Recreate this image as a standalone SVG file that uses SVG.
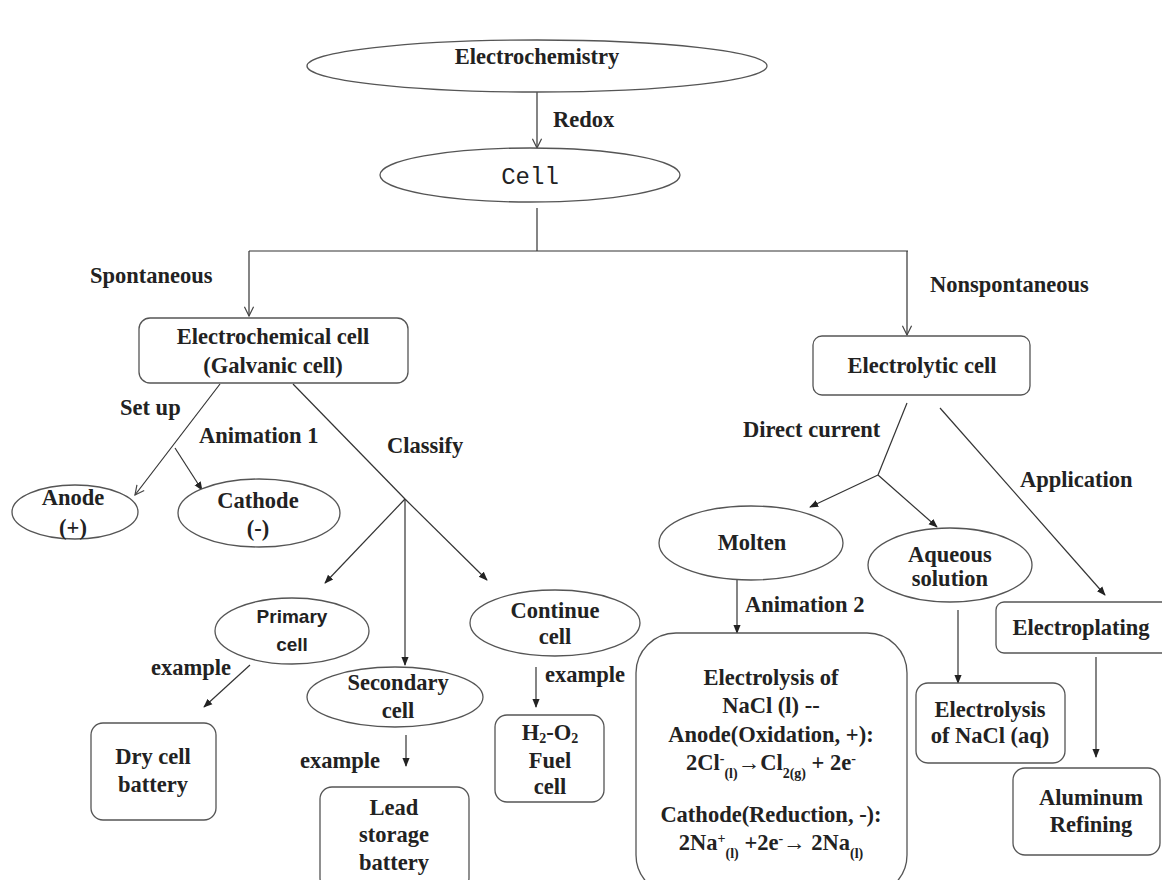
<svg xmlns="http://www.w3.org/2000/svg" width="1162" height="880" viewBox="0 0 1162 880">
<style>
.t{font-family:"Liberation Serif","Times New Roman",serif;font-weight:bold;font-size:22.5px;fill:#222}
.c{text-anchor:middle}
.s{font-family:"Liberation Sans",Arial,sans-serif;font-weight:bold;font-size:19px;fill:#222;text-anchor:middle}
.m{font-family:"Liberation Mono","Courier New",monospace;font-size:24px;fill:#222;text-anchor:middle}
.sm{font-size:14px}
.n{fill:#fff;stroke:#555;stroke-width:1.3}
.e{stroke:#333;stroke-width:1.2;fill:none}
.o{marker-end:url(#open)}
.f{marker-end:url(#fill)}
</style>
<defs>
<marker id="open" viewBox="0 0 12 12" refX="11" refY="6" markerWidth="11" markerHeight="11" markerUnits="userSpaceOnUse" orient="auto">
<path d="M1,1 L11,6 L1,11" fill="none" stroke="#444" stroke-width="1.3"/>
</marker>
<marker id="fill" viewBox="0 0 10 10" refX="9" refY="5" markerWidth="9" markerHeight="9" markerUnits="userSpaceOnUse" orient="auto">
<path d="M0,1 L10,5 L0,9 Z" fill="#222"/>
</marker>
</defs>
<rect width="1162" height="880" fill="#fff"/>

<g id="connectors">
<path class="e o" d="M537,92 L537,148"/>
<path class="e" d="M537,208 L537,251"/>
<path class="e" d="M249,251 L908,251"/>
<path class="e o" d="M249,251 L249,316"/>
<path class="e o" d="M907,251 L907,335"/>
<path class="e o" d="M220,384 L135,495"/>
<path class="e f" d="M175,448 L202,490"/>
<path class="e" d="M293,384 L405,499"/>
<path class="e f" d="M405,499 L325,583"/>
<path class="e f" d="M405,499 L405,665"/>
<path class="e f" d="M405,499 L487,580"/>
<path class="e f" d="M250,665 L204,707"/>
<path class="e f" d="M406,735 L406,766"/>
<path class="e f" d="M536,667 L536,707"/>
<path class="e" d="M907,403 L878,475"/>
<path class="e f" d="M878,475 L810,507"/>
<path class="e f" d="M878,475 L937,527"/>
<path class="e f" d="M940,408 L1105,595"/>
<path class="e f" d="M737,580 L737,633"/>
<path class="e f" d="M958,610 L958,683"/>
<path class="e f" d="M1096,657 L1096,757"/>
</g>

<g id="labels">
<text class="t" x="90" y="283">Spontaneous</text>
<text class="t" x="553" y="127">Redox</text>
<text class="t" x="930" y="292">Nonspontaneous</text>
<text class="t" x="120" y="415">Set up</text>
<text class="t" x="199" y="443">Animation 1</text>
<text class="t" x="387" y="453">Classify</text>
<text class="t" x="743" y="437">Direct current</text>
<text class="t" x="1020" y="487">Application</text>
<text class="t" x="151" y="675">example</text>
<text class="t" x="300" y="768">example</text>
<text class="t" x="545" y="682">example</text>
<text class="t" x="745" y="612">Animation 2</text>
</g>

<g id="electrochemistry">
<ellipse class="n" cx="537" cy="66" rx="230" ry="26"/>
<text class="t c" x="537" y="64">Electrochemistry</text>
</g>
<g id="cell">
<ellipse class="n" cx="530" cy="175" rx="150" ry="27"/>
<text class="m" x="530" y="184">Cell</text>
</g>
<g id="galvanic">
<rect class="n" x="139" y="318" width="269" height="65" rx="11"/>
<text class="t c" x="273" y="344">Electrochemical cell</text>
<text class="t c" x="273" y="373">(Galvanic cell)</text>
</g>
<g id="electrolytic">
<rect class="n" x="813" y="336" width="217" height="59" rx="9"/>
<text class="t c" x="922" y="373">Electrolytic cell</text>
</g>
<g id="anode">
<ellipse class="n" cx="75" cy="512" rx="63" ry="27"/>
<text class="t c" x="73" y="505">Anode</text>
<text class="t c" x="73" y="535">(+)</text>
</g>
<g id="cathode">
<ellipse class="n" cx="259" cy="513" rx="81" ry="34"/>
<text class="t c" x="258" y="508">Cathode</text>
<text class="t c" x="258" y="536">(-)</text>
</g>
<g id="primary">
<ellipse class="n" cx="292" cy="631" rx="77" ry="33"/>
<text class="s" x="292" y="623">Primary</text>
<text class="s" x="292" y="651">cell</text>
</g>
<g id="secondary">
<ellipse class="n" cx="395" cy="697" rx="88" ry="30"/>
<text class="t c" x="398" y="690">Secondary</text>
<text class="t c" x="398" y="718">cell</text>
</g>
<g id="continue">
<ellipse class="n" cx="555" cy="623" rx="85" ry="33"/>
<text class="t c" x="555" y="618">Continue</text>
<text class="t c" x="555" y="644">cell</text>
</g>
<g id="drycell">
<rect class="n" x="91" y="723" width="125" height="97" rx="12"/>
<text class="t c" x="153" y="764">Dry cell</text>
<text class="t c" x="153" y="792">battery</text>
</g>
<g id="lead">
<rect class="n" x="320" y="787" width="149" height="103" rx="12"/>
<text class="t c" x="394" y="815">Lead</text>
<text class="t c" x="394" y="842">storage</text>
<text class="t c" x="394" y="870">battery</text>
</g>
<g id="fuelcell">
<rect class="n" x="495" y="715" width="109" height="87" rx="12"/>
<text class="t c" x="550" y="740">H<tspan class="sm" baseline-shift="-3">2</tspan>-O<tspan class="sm" baseline-shift="-3">2</tspan></text>
<text class="t c" x="550" y="768">Fuel</text>
<text class="t c" x="550" y="794">cell</text>
</g>
<g id="molten">
<ellipse class="n" cx="751" cy="543" rx="92" ry="37"/>
<text class="t c" x="752" y="550">Molten</text>
</g>
<g id="aqueous">
<ellipse class="n" cx="950" cy="565" rx="82" ry="37"/>
<text class="t c" x="950" y="562">Aqueous</text>
<text class="t c" x="950" y="586">solution</text>
</g>
<g id="electroplating">
<rect class="n" x="996" y="602" width="175" height="51" rx="8"/>
<text class="t c" x="1081" y="635">Electroplating</text>
</g>
<g id="nacl-molten">
<rect class="n" x="636" y="633" width="271" height="262" rx="40"/>
<text class="t c" x="771" y="685">Electrolysis of</text>
<text class="t c" x="771" y="713">NaCl (l) --</text>
<text class="t c" x="771" y="742">Anode(Oxidation, +):</text>
<text class="t c" x="771" y="770">2Cl<tspan class="sm" baseline-shift="super">-</tspan><tspan class="sm" baseline-shift="sub">(l)</tspan>→Cl<tspan class="sm" baseline-shift="sub">2(g)</tspan> + 2e<tspan class="sm" baseline-shift="super">-</tspan></text>
<text class="t c" x="771" y="822">Cathode(Reduction, -):</text>
<text class="t c" x="771" y="850">2Na<tspan class="sm" baseline-shift="super">+</tspan><tspan class="sm" baseline-shift="sub">(l)</tspan> +2e<tspan class="sm" baseline-shift="super">-</tspan>→ 2Na<tspan class="sm" baseline-shift="sub">(l)</tspan></text>
</g>
<g id="nacl-aq">
<rect class="n" x="916" y="683" width="149" height="80" rx="12"/>
<text class="t c" x="990" y="717">Electrolysis</text>
<text class="t c" x="990" y="743">of NaCl (aq)</text>
</g>
<g id="aluminum">
<rect class="n" x="1013" y="768" width="147" height="87" rx="12"/>
<text class="t c" x="1091" y="805">Aluminum</text>
<text class="t c" x="1091" y="832">Refining</text>
</g>
</svg>
